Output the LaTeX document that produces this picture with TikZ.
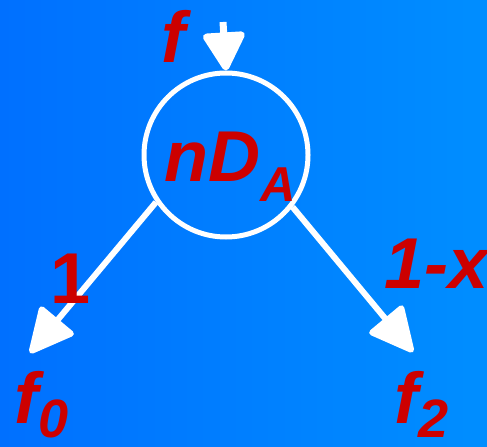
\documentclass[tikz,border=0pt]{standalone}
\usepackage{fontspec}
\setmainfont{Liberation Sans}
\usetikzlibrary{arrows.meta}
\definecolor{bgleft}{RGB}{0,112,255}
\definecolor{bgright}{RGB}{0,142,255}
\definecolor{lbl}{RGB}{204,0,0}
\newcommand{\bigfont}{\fontsize{72bp}{80bp}\selectfont\bfseries}
\newcommand{\subfont}{\fontsize{49bp}{52bp}\selectfont\bfseries\itshape}
\newcommand{\subdigit}{\fontsize{54bp}{58bp}\selectfont\bfseries}
\tikzset{
  lab/.style={text=lbl, inner sep=0pt, anchor=base west, font=\bigfont},
  flow/.style={draw=white, line width=6bp, -{Triangle[length=48bp,width=46bp,round]}},
  ring/.style={circle, draw=white, line width=5bp, minimum size=164bp, inner sep=0pt}
}
\begin{document}
\begin{tikzpicture}[x=1bp,y=-1bp]
  \shade[left color=bgleft, right color=bgright] (0,0) rectangle (487,447);
  \useasboundingbox (0,0) rectangle (487,447);
  \node[ring] (c) at (226,155) {};
  \coordinate (top) at (223,22);
  \coordinate (t0) at (30,353);
  \coordinate (t2) at (413,352);
  \draw[flow, line width=7bp, -{Triangle[length=42bp,width=45bp,round]}] (top) -- (c.north);
  \draw[flow] (c.214) -- (t0);
  \draw[flow] (c.322) -- (t2);
  \node[lab] (fin) at (161,63) {\itshape f};
  \node[lab] (nda) at (164,182) {\itshape nD\raisebox{-20bp}{\subfont A}};
  \node[lab] (one) at (50,303) {1};
  \node[lab] (onex) at (384,288) {\itshape 1-x};
  \node[lab] (f0) at (14,423) {\itshape f\raisebox{-14bp}{\subdigit 0}};
  \node[lab] (f2) at (394,423) {\itshape f\raisebox{-14bp}{\subdigit 2}};
\end{tikzpicture}
\end{document}
